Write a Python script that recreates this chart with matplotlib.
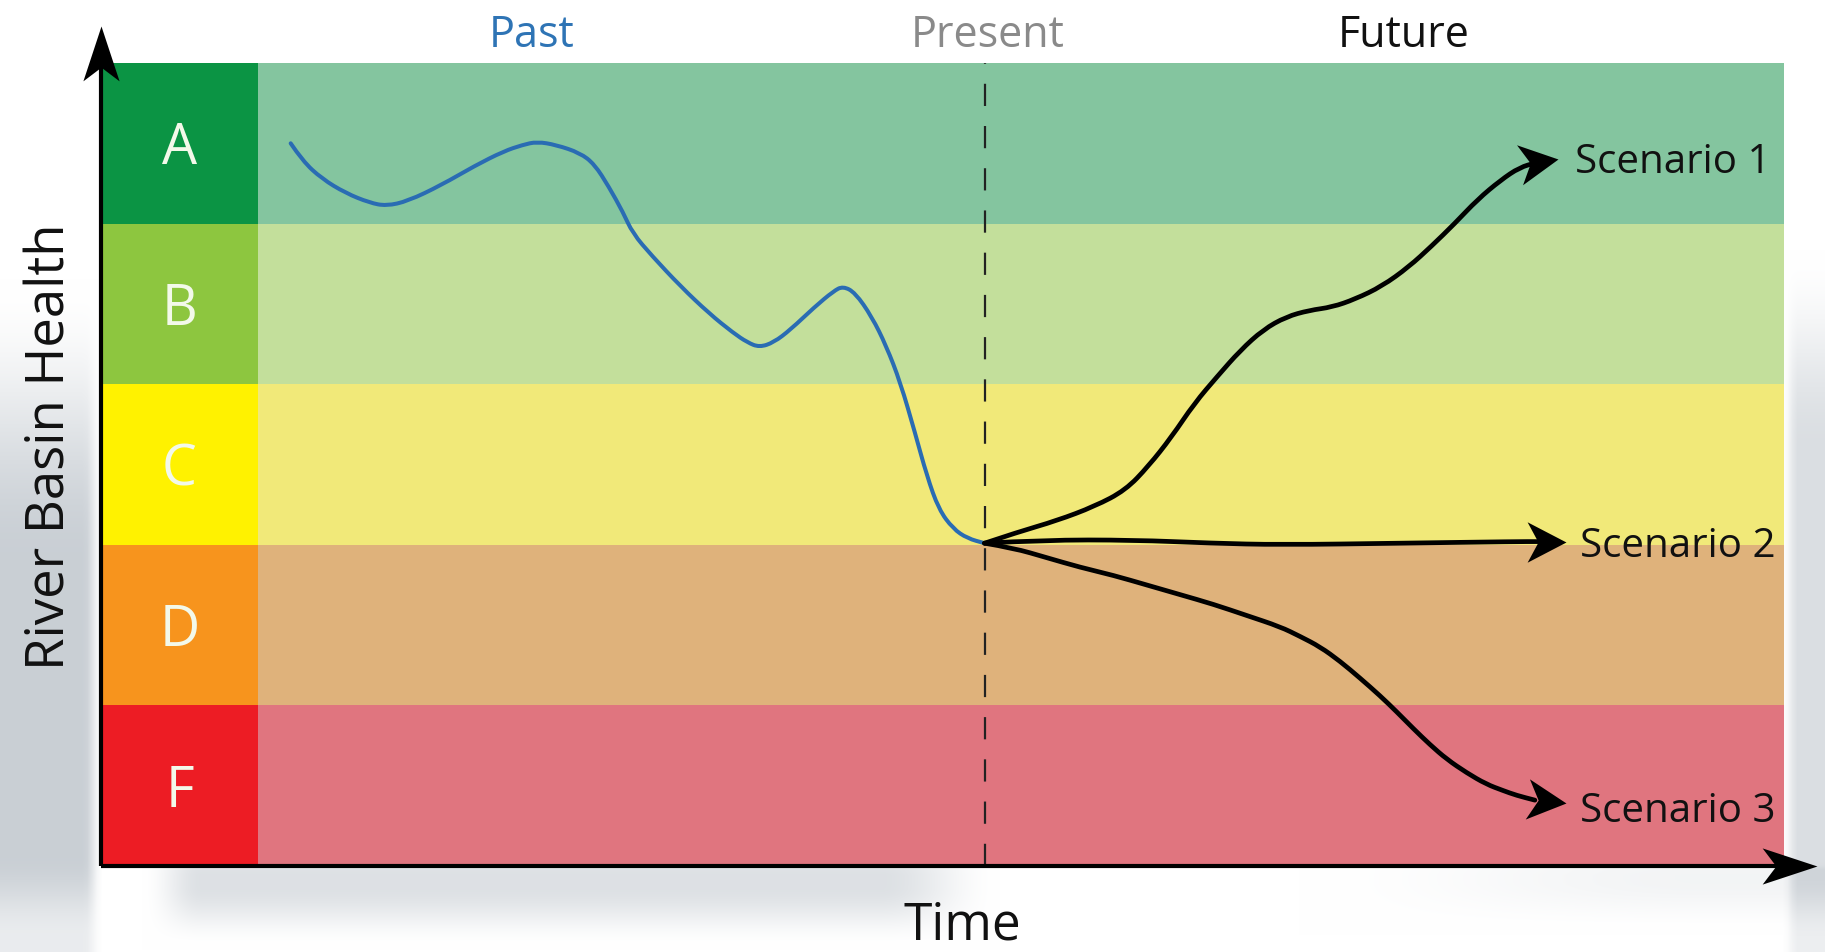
import numpy as np
import matplotlib
matplotlib.use("Agg")
import matplotlib.pyplot as plt
from matplotlib.path import Path
from matplotlib.patches import PathPatch
from matplotlib.markers import MarkerStyle
from matplotlib.transforms import Affine2D

plt.rcParams['font.family'] = ['Open Sans', 'DejaVu Sans']

# ---------------- data ----------------
grades = ["F", "D", "C", "B", "A"]
grade_colors = ["#ed1c24", "#f7941d", "#fff200", "#8dc63f", "#0b9444"]
band_colors = ["#e0757f", "#dfb27b", "#f1e979", "#c3df9b", "#84c59f"]
grade_col_width = 9.33          # time units covered by the grade column
x_max = 100

past_x = [11.27, 11.98, 13.12, 14.54, 15.96, 16.95, 18.23, 20.22, 22.21, 23.92,
          25.05, 25.91, 27.04, 28.46, 29.32, 30.17, 31.02, 31.59, 32.73, 34.43,
          36.14, 37.56, 38.41, 39.12, 39.97, 40.97, 42.39, 43.53, 44.09, 44.81,
          45.80, 46.65, 47.50, 48.36, 49.07, 49.78, 50.63, 51.48, 52.50]
past_y = [4.50, 4.39, 4.28, 4.19, 4.13, 4.11, 4.14, 4.24, 4.36, 4.45,
          4.49, 4.51, 4.49, 4.44, 4.37, 4.23, 4.07, 3.94, 3.80, 3.61,
          3.44, 3.32, 3.26, 3.23, 3.26, 3.34, 3.48, 3.58, 3.61, 3.57,
          3.42, 3.24, 3.01, 2.70, 2.43, 2.22, 2.10, 2.04, 2.01]

present_x = 52.5

s1_x = [52.50, 54.50, 56.78, 59.05, 60.87, 62.24, 63.60, 64.96, 66.34, 67.69,
        69.06, 70.42, 71.79, 73.15, 74.52, 76.11, 77.70, 79.06, 80.43, 81.79,
        83.16, 84.29, 85.30, 86.57]
s1_y = [2.01, 2.08, 2.15, 2.24, 2.34, 2.49, 2.67, 2.88, 3.05, 3.21,
        3.34, 3.42, 3.46, 3.48, 3.53, 3.61, 3.73, 3.86, 4.00, 4.15,
        4.27, 4.35, 4.38, 4.40]

s2_x = [52.50, 56.00, 61.33, 66.00, 70.06, 77.24, 84.07, 85.40, 87.02]
s2_y = [2.01, 2.03, 2.03, 2.01, 2.00, 2.01, 2.02, 2.02, 2.02]

s3_x = [52.50, 54.21, 56.19, 58.17, 60.15, 62.13, 64.11, 66.09, 68.07, 70.06,
        71.24, 72.43, 73.62, 74.81, 76.00, 76.99, 77.98, 78.97, 79.96, 81.15,
        82.30, 83.30, 84.10, 85.20, 87.02]
s3_y = [2.01, 1.98, 1.92, 1.86, 1.81, 1.75, 1.69, 1.63, 1.56, 1.49,
        1.43, 1.365, 1.275, 1.17, 1.06, 0.96, 0.855, 0.755, 0.665, 0.58,
        0.51, 0.47, 0.44, 0.41, 0.39]

scenario_labels = ["Scenario 1", "Scenario 2", "Scenario 3"]
scenario_label_x = [87.6, 87.9, 87.9]
scenario_label_y = [4.32, 1.93, 0.28]

phase_labels = ["Past", "Present", "Future"]
phase_x = [25.6, 52.7, 77.4]
phase_colors = ["#2e74b5", "#8a8a8a", "#111111"]

# ---------------- figure ----------------
W, H = 1825, 953
fig = plt.figure(figsize=(W / 100, H / 100), dpi=100)
fig.patch.set_facecolor("white")

# faint grey photographic backdrop (decorative)
bg = fig.add_axes([0, 0, 1, 1], zorder=-10)
gx, gy = np.meshgrid(np.linspace(0, W, 366), np.linspace(0, H, 192))


def ramp(v, a, b):
    t = np.clip((v - a) / (b - a), 0, 1)
    return t * t * (3 - 2 * t)


dark = np.zeros_like(gx)
dark += 0.22 * ramp(gy, 280, 560) * (1 - 0.6 * ramp(gy, 860, 940)) * (1 - ramp(gx, 82, 100))
dark += 0.15 * ramp(gy, 250, 450) * (1 - 0.5 * ramp(gy, 870, 950)) * ramp(gx, 1786, 1800)
dark += 0.14 * ramp(gy, 867, 874) * (1 - ramp(gy, 890, 950)) * ramp(gx, 140, 200) * (1 - ramp(gx, 880, 1000))
dark += 0.05 * ramp(gy, 867, 874) * (1 - ramp(gy, 885, 935)) * ramp(gx, 1300, 1700)
rgb = np.dstack([1 - 0.95 * dark, 1 - 0.85 * dark, 1 - 0.75 * dark])
bg.imshow(np.clip(rgb, 0, 1), extent=[0, W, 0, H], origin="upper",
          interpolation="bilinear", aspect="auto")
bg.axis("off")

ax = fig.add_axes([0.05534, 0.09024, 0.9222, 0.8426])
ax.set_xlim(0, x_max)
ax.set_ylim(0, len(grades))
ax.axis("off")
ax.patch.set_alpha(0)

ypos = np.arange(len(grades)) + 0.5
ax.barh(ypos, x_max - grade_col_width, left=grade_col_width, height=1.0,
        color=band_colors, edgecolor="none", zorder=1)
ax.barh(ypos, grade_col_width, left=0, height=1.0,
        color=grade_colors, edgecolor="none", zorder=1)

for g, yc in zip(grades, ypos):
    ax.text(grade_col_width / 2, yc - 0.125, g, ha="center", va="baseline",
            fontsize=40, color="#f3f9ea", zorder=3)

# present dashed line
ax.plot([present_x, present_x], [0, len(grades)], color="#222222", lw=1.6,
        dashes=(10, 9), zorder=2)


def smooth_curve(xs, ys, **kw):
    """Quadratic-Bezier path using the read points as control points."""
    pts = list(zip(xs, ys))
    verts = [pts[0]]
    codes = [Path.MOVETO]
    for i in range(1, len(pts) - 1):
        mid = ((pts[i][0] + pts[i + 1][0]) / 2, (pts[i][1] + pts[i + 1][1]) / 2)
        verts += [pts[i], mid]
        codes += [Path.CURVE3, Path.CURVE3]
    verts.append(pts[-1])
    codes.append(Path.LINETO)
    ax.add_patch(PathPatch(Path(verts, codes), fill=False, capstyle="round",
                           joinstyle="round", **kw))


def head_marker(angle, w, notch=0.72):
    verts = [(0, 0), (-1, w), (-notch, 0), (-1, -w), (0, 0)]
    codes = [Path.MOVETO, Path.LINETO, Path.LINETO, Path.LINETO, Path.CLOSEPOLY]
    return MarkerStyle(Path(verts, codes), transform=Affine2D().rotate_deg(angle))


def display_angle(xs, ys):
    p = ax.transData.transform([(xs[-2], ys[-2]), (xs[-1], ys[-1])])
    return np.degrees(np.arctan2(p[1, 1] - p[0, 1], p[1, 0] - p[0, 0]))


# past curve
smooth_curve(past_x, past_y, edgecolor="#2a6cb3", lw=2.9, zorder=4)

# scenarios
for xs, ys in [(s1_x, s1_y), (s2_x, s2_y), (s3_x, s3_y)]:
    smooth_curve(xs[:-1], ys[:-1], edgecolor="black", lw=3.4, zorder=5)
    ang = display_angle(xs, ys)
    ax.plot([xs[-1]], [ys[-1]], linestyle="none",
            marker=head_marker(ang, 0.52), markersize=56,
            color="black", markeredgewidth=0, zorder=6)

for lab, lx, ly in zip(scenario_labels, scenario_label_x, scenario_label_y):
    ax.text(lx, ly, lab, ha="left", va="baseline", fontsize=29,
            color="#111111", zorder=6)

# axes arrows
ax.plot([0, 0], [0, 1.03], transform=ax.transAxes, color="black", lw=3,
        clip_on=False, solid_capstyle="butt", zorder=7)
ax.plot([0], [1.046], transform=ax.transAxes, linestyle="none",
        marker=head_marker(90, 0.33, 0.75), markersize=79, color="black",
        markeredgewidth=0, clip_on=False, zorder=7)
ax.plot([0, 1.01], [0, 0], transform=ax.transAxes, color="black", lw=3,
        clip_on=False, solid_capstyle="butt", zorder=7)
ax.plot([1.0196], [0], transform=ax.transAxes, linestyle="none",
        marker=head_marker(0, 0.33, 0.75), markersize=79, color="black",
        markeredgewidth=0, clip_on=False, zorder=7)

# phase labels
trans = ax.get_xaxis_transform()
for lab, px, pc in zip(phase_labels, phase_x, phase_colors):
    ax.text(px, 1.021, lab, transform=trans, ha="center", va="baseline",
            fontsize=31, color=pc)

ax.text(51.2, -0.0909, "Time", transform=trans, ha="center", va="baseline",
        fontsize=37, color="#111111")
ax.text(-0.0214, 0.523, "River Basin Health", transform=ax.transAxes,
        rotation=90, rotation_mode="anchor", ha="center", va="baseline",
        fontsize=38, color="#111111")

fig.savefig("out.png", dpi=100, facecolor=fig.get_facecolor())
